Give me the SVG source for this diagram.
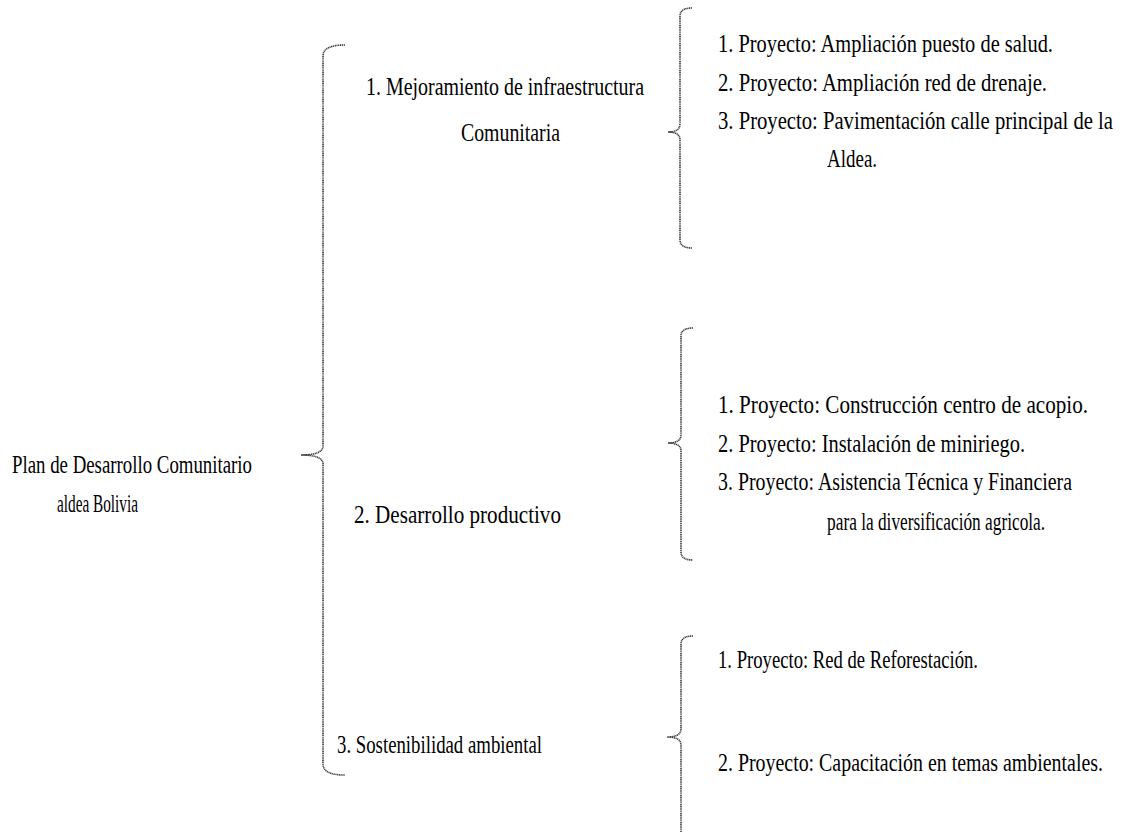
<svg xmlns="http://www.w3.org/2000/svg" width="1122" height="832" viewBox="0 0 1122 832">
<style>
text{font-family:"Liberation Serif","DejaVu Serif",serif;font-size:25px;fill:#000;}
.brace{fill:none;stroke:#3a3a3a;stroke-width:1.6;stroke-dasharray:1.2 0.6;}
</style>
<rect width="1122" height="832" fill="#fff"/>
<g id="connectors">
<path class="brace" d="M345 45 Q323 45 323 56 L323 446 Q323 455 301 455 Q323 455 323 464 L323 764 Q323 775 345 775"/>
<path class="brace" d="M692 8 Q680 8 680 16 L680 124 Q680 132 668 132 Q680 132 680 140 L680 240 Q680 248 692 248"/>
<path class="brace" d="M693 328 Q681 328 681 336 L681 435 Q681 443 668 443 Q681 443 681 451 L681 552 Q681 560 693 560"/>
<path class="brace" d="M693 636 Q681 636 681 644 L681 729 Q681 737 667 737 Q681 737 681 745 L681 832"/>
</g>
<g id="root">
<text x="12" y="473" textLength="240" lengthAdjust="spacingAndGlyphs">Plan de Desarrollo Comunitario</text>
<text x="57" y="512" textLength="81" lengthAdjust="spacingAndGlyphs">aldea Bolivia</text>
</g>
<g id="n1">
<text x="366" y="95" textLength="278" lengthAdjust="spacingAndGlyphs">1. Mejoramiento de infraestructura</text>
<text x="461" y="141" textLength="99" lengthAdjust="spacingAndGlyphs">Comunitaria</text>
</g>
<g id="n2">
<text x="354" y="523" textLength="207" lengthAdjust="spacingAndGlyphs">2. Desarrollo productivo</text>
</g>
<g id="n3">
<text x="337" y="753" textLength="205" lengthAdjust="spacingAndGlyphs">3. Sostenibilidad ambiental</text>
</g>
<g id="p1" transform="translate(718 0) scale(0.82 1)">
<text x="0" y="52" textLength="408.5" lengthAdjust="spacingAndGlyphs">1. Proyecto: Ampliación puesto de salud.</text>
<text x="0" y="91" textLength="401.2" lengthAdjust="spacingAndGlyphs">2. Proyecto: Ampliación red de drenaje.</text>
<text x="0" y="129" textLength="481.7" lengthAdjust="spacingAndGlyphs">3. Proyecto: Pavimentación calle principal de la</text>
<text x="133" y="167" textLength="61" lengthAdjust="spacingAndGlyphs">Aldea.</text>
</g>
<g id="p2" transform="translate(718 0) scale(0.82 1)">
<text x="0" y="413" textLength="451.2" lengthAdjust="spacingAndGlyphs">1. Proyecto: Construcción centro de acopio.</text>
<text x="0" y="452" textLength="374.4" lengthAdjust="spacingAndGlyphs">2. Proyecto: Instalación de miniriego.</text>
<text x="0" y="490" textLength="431.7" lengthAdjust="spacingAndGlyphs">3. Proyecto: Asistencia Técnica y Financiera</text>
<text x="133" y="530" textLength="265.9" lengthAdjust="spacingAndGlyphs">para la diversificación agricola.</text>
</g>
<g id="p3" transform="translate(718 0) scale(0.82 1)">
<text x="0" y="668" textLength="317.1" lengthAdjust="spacingAndGlyphs">1. Proyecto: Red de Reforestación.</text>
<text x="0" y="771" textLength="469.5" lengthAdjust="spacingAndGlyphs">2. Proyecto: Capacitación en temas ambientales.</text>
</g>
</svg>
